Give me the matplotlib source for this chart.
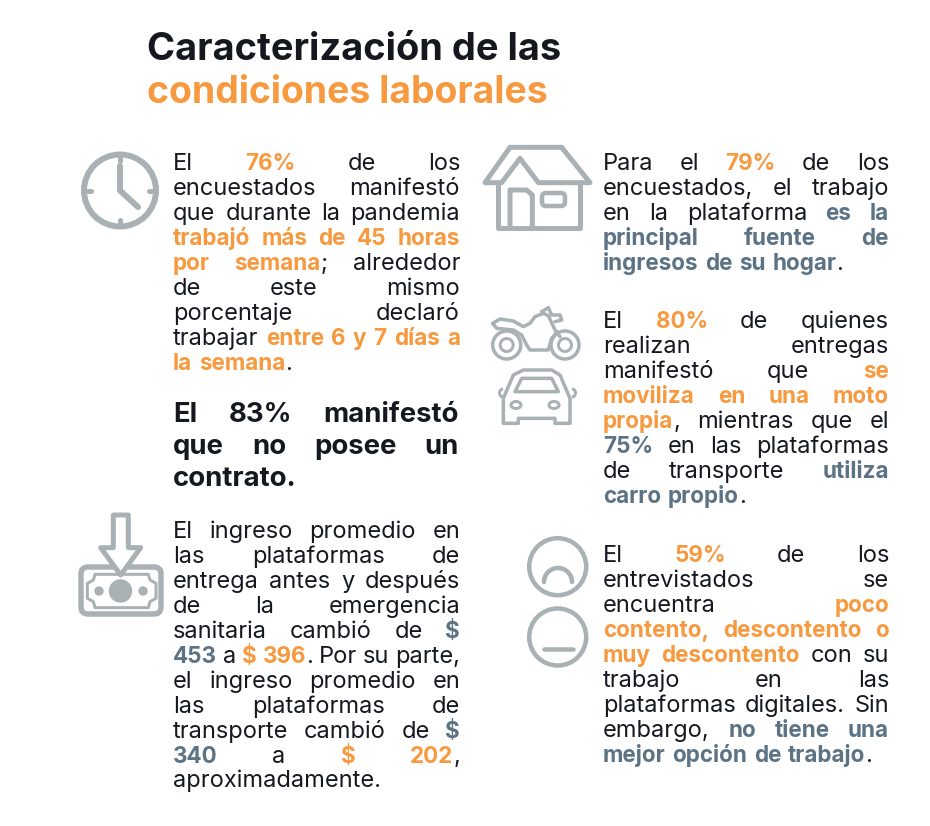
#!/usr/bin/env python
"""Infographic: condiciones laborales en plataformas digitales."""
import re

import matplotlib

matplotlib.use("Agg")
import matplotlib.pyplot as plt
from matplotlib.patches import Arc, Circle, Ellipse, FancyBboxPatch, Polygon

DARK = "#15191f"
ORANGE = "#f7993f"
SLATE = "#5b7384"
GREY = "#a9b1b5"
FONT = "Inter"

BODY_PX = 23.6
ACCENT_PX = 22.4
BOLD_PX = 27.5
LINE = 24.95

TITLE_1 = "Caracterización de las"
TITLE_2 = "condiciones laborales"

# [o:..] orange, [s:..] slate, rest dark
BLOCK_CLOCK = [
    "El [o:76%] de los",
    "encuestados manifestó",
    "que durante la pandemia",
    "[o:trabajó más de 45 horas]",
    "[o:por semana]; alrededor",
    "de este mismo",
    "porcentaje declaró",
    "trabajar [o:entre 6 y 7 días a]",
    "[o:la semana].",
]
BLOCK_CONTRACT = [
    "El 83% manifestó",
    "que no posee un",
    "contrato.",
]
BLOCK_INCOME = [
    "El ingreso promedio en",
    "las plataformas de",
    "entrega antes y después",
    "de la emergencia",
    "sanitaria cambió de [s:$]",
    "[s:453] a [o:$ 396]. Por su parte,",
    "el ingreso promedio en",
    "las plataformas de",
    "transporte cambió de [s:$]",
    "[s:340] a [o:$ 202],",
    "aproximadamente.",
]
BLOCK_HOME = [
    "Para el [o:79%] de los",
    "encuestados, el trabajo",
    "en la plataforma [s:es la]",
    "[s:principal fuente de]",
    "[s:ingresos de su hogar].",
]
BLOCK_VEHICLE = [
    "El [o:80%] de quienes",
    "realizan entregas",
    "manifestó que [o:se]",
    "[o:moviliza en una moto]",
    "[o:propia], mientras que el",
    "[s:75%] en las plataformas",
    "de transporte [s:utiliza]",
    "[s:carro propio].",
]
BLOCK_MOOD = [
    "El [o:59%] de los",
    "entrevistados se",
    "encuentra [o:poco]",
    "[o:contento, descontento o]",
    "[o:muy descontento] con su",
    "trabajo en las",
    "plataformas digitales. Sin",
    "embargo, [s:no tiene una]",
    "[s:mejor opción de trabajo].",
]

fig = plt.figure(figsize=(9.3, 8.26), dpi=100)
ax = fig.add_axes([0, 0, 1, 1])
ax.set_xlim(0, 930)
ax.set_ylim(826, 0)
ax.axis("off")
renderer = fig.canvas.get_renderer()
COLORS = {"o": ORANGE, "s": SLATE, None: DARK}


def px(size):
    return size * 72 / fig.dpi


def parse(line):
    # returns words, each word a list of (text, colour key) runs
    words, current = [], []
    for part in re.split(r"(\[[os]:[^\]]*\])", line):
        if not part:
            continue
        key = None
        if part.startswith("[") and part[2] == ":":
            key, part = part[1], part[3:-1]
        pieces = part.split(" ")
        for i, piece in enumerate(pieces):
            if i > 0 and current:
                words.append(current)
                current = []
            if piece:
                current.append((piece, key))
    if current:
        words.append(current)
    return words


def width(text, size, weight):
    t = ax.text(0, 0, text, fontsize=px(size), fontweight=weight, family=FONT)
    w = t.get_window_extent(renderer).width
    t.remove()
    return w


def run_style(key, size, base_weight):
    return (ACCENT_PX, "bold") if key else (size, base_weight)


def draw_line(line, x0, x1, y, size, base_weight, justify):
    words = parse(line)
    widths = []
    for word in words:
        widths.append(sum(width(r, *run_style(k, size, base_weight)) for r, k in word))
    space = width("n n", size, base_weight) - 2 * width("n", size, base_weight)
    total = sum(widths)
    if justify and len(words) > 1:
        gap = (x1 - x0 - total) / (len(words) - 1)
    else:
        gap = space
    x = x0
    for word, w in zip(words, widths):
        cx = x
        for run, key in word:
            run_size, run_weight = run_style(key, size, base_weight)
            ax.text(cx, y, run, fontsize=px(run_size), color=COLORS[key], family=FONT,
                    fontweight=run_weight, va="baseline", ha="left")
            cx += width(run, run_size, run_weight)
        x += w + gap


def draw_block(lines, x0, x1, y, size=BODY_PX, weight="normal", step=LINE):
    for i, line in enumerate(lines):
        draw_line(line, x0, x1, y + i * step, size, weight, i < len(lines) - 1)


ax.text(147, 60, TITLE_1, fontsize=px(38), fontweight="bold", color=DARK, family=FONT)
ax.text(147, 103, TITLE_2, fontsize=px(37.3), fontweight="bold", color=ORANGE, family=FONT)

draw_block(BLOCK_CLOCK, 173, 460, 170)
draw_block(BLOCK_CONTRACT, 173, 459, 422, size=BOLD_PX, weight="bold", step=32)
draw_block(BLOCK_INCOME, 173, 460, 538)
draw_block(BLOCK_HOME, 603, 889, 170)
draw_block(BLOCK_VEHICLE, 603, 889, 328)
draw_block(BLOCK_MOOD, 603, 889, 562)


def stroke(points, lw, closed=False, fill="none", z=2):
    ax.add_patch(Polygon(points, closed=closed, fill=fill != "none", facecolor=fill, edgecolor=GREY,
                         lw=px(lw), joinstyle="round", capstyle="round", zorder=z))


def zoomed(points, ox, oy):
    return [(ox + a / 3, oy + b / 3) for a, b in points]


# clock
ax.add_patch(Circle((120, 190.5), 36, fill=False, ec=GREY, lw=px(6)))
stroke([(120, 166), (120, 190.5), (138, 207)], 6)
for a, b, c, d in [(120, 157, 120, 161), (120, 220, 120, 224), (87, 190.5, 91, 190.5), (149, 190.5, 153, 190.5)]:
    ax.plot([a, c], [b, d], color=GREY, lw=px(5), solid_capstyle="round")

# money and arrow
ax.add_patch(FancyBboxPatch((81, 567), 80, 47, boxstyle="round,pad=0,rounding_size=7", fill=False, ec=GREY, lw=px(5.5)))
stroke(zoomed([(75, 208), (235, 208), (240, 225), (258, 235), (258, 280), (240, 290), (235, 308),
               (75, 308), (70, 290), (52, 280), (52, 235), (70, 225)], 70, 505), 3, closed=True)
stroke(zoomed([(130, 30), (175, 30), (175, 128), (212, 128), (152, 210), (92, 128), (130, 128)], 70, 505),
       5, closed=True, fill="white", z=3)
ax.add_patch(Circle((120.5, 591), 11, color=GREY))
ax.add_patch(Circle((99, 591), 4, color=GREY))
ax.add_patch(Circle((143, 591), 4, color=GREY))

# house
stroke(zoomed([(30, 128), (105, 22), (260, 22), (345, 128), (190, 128), (135, 55), (80, 128)], 475, 140), 5, closed=True)
stroke(zoomed([(68, 128), (68, 265), (315, 265), (315, 128)], 475, 140), 5)
stroke(zoomed([(105, 265), (105, 150), (155, 150), (172, 165), (172, 265)], 475, 140), 5)
ax.add_patch(FancyBboxPatch((542, 193), 23, 13, boxstyle="round,pad=0,rounding_size=4", fill=False, ec=GREY, lw=px(4.5)))

# motorbike
for cx in (506.7, 565):
    ax.add_patch(Circle((cx, 345), 14, fill=False, ec=GREY, lw=px(3.5)))
    ax.add_patch(Circle((cx, 345), 6.5, fill=False, ec=GREY, lw=px(3)))
stroke(zoomed([(38, 85), (60, 72), (100, 78), (130, 95), (150, 85), (165, 65), (190, 55), (205, 62), (225, 105), (240, 125)], 480, 295), 3.5)
stroke(zoomed([(38, 85), (50, 100), (100, 105), (125, 120), (140, 150), (150, 165), (205, 165), (215, 130), (232, 110)], 480, 295), 3.5)
stroke(zoomed([(185, 50), (205, 38), (215, 60), (240, 60), (245, 75), (225, 80)], 480, 295), 3.5)

# car
stroke(zoomed([(70, 385), (70, 310), (100, 240), (130, 225), (215, 225), (240, 240), (270, 310), (270, 385),
               (225, 385), (225, 370), (115, 370), (115, 385)], 480, 295), 3.5, closed=True)
stroke(zoomed([(105, 290), (125, 250), (215, 250), (235, 290)], 480, 295), 3.5, closed=True)
ax.add_patch(Ellipse((516, 405), 10, 7, fill=False, ec=GREY, lw=px(3)))
ax.add_patch(Ellipse((554, 405), 10, 7, fill=False, ec=GREY, lw=px(3)))
ax.add_patch(Arc((503, 393), 7, 8, theta1=90, theta2=270, ec=GREY, lw=px(3)))
ax.add_patch(Arc((572, 393), 7, 8, theta1=-90, theta2=90, ec=GREY, lw=px(3)))

# faces
ax.add_patch(Circle((557.7, 566.7), 28.5, fill=False, ec=GREY, lw=px(4.5)))
ax.add_patch(Arc((558, 582), 28, 28, theta1=180, theta2=360, ec=GREY, lw=px(4.5), capstyle="round"))
ax.add_patch(Circle((557.7, 637), 28.5, fill=False, ec=GREY, lw=px(4.5)))
ax.plot([543.5, 573], [648.5, 648.5], color=GREY, lw=px(4.5), solid_capstyle="round")

fig.savefig("out.png", dpi=100)
